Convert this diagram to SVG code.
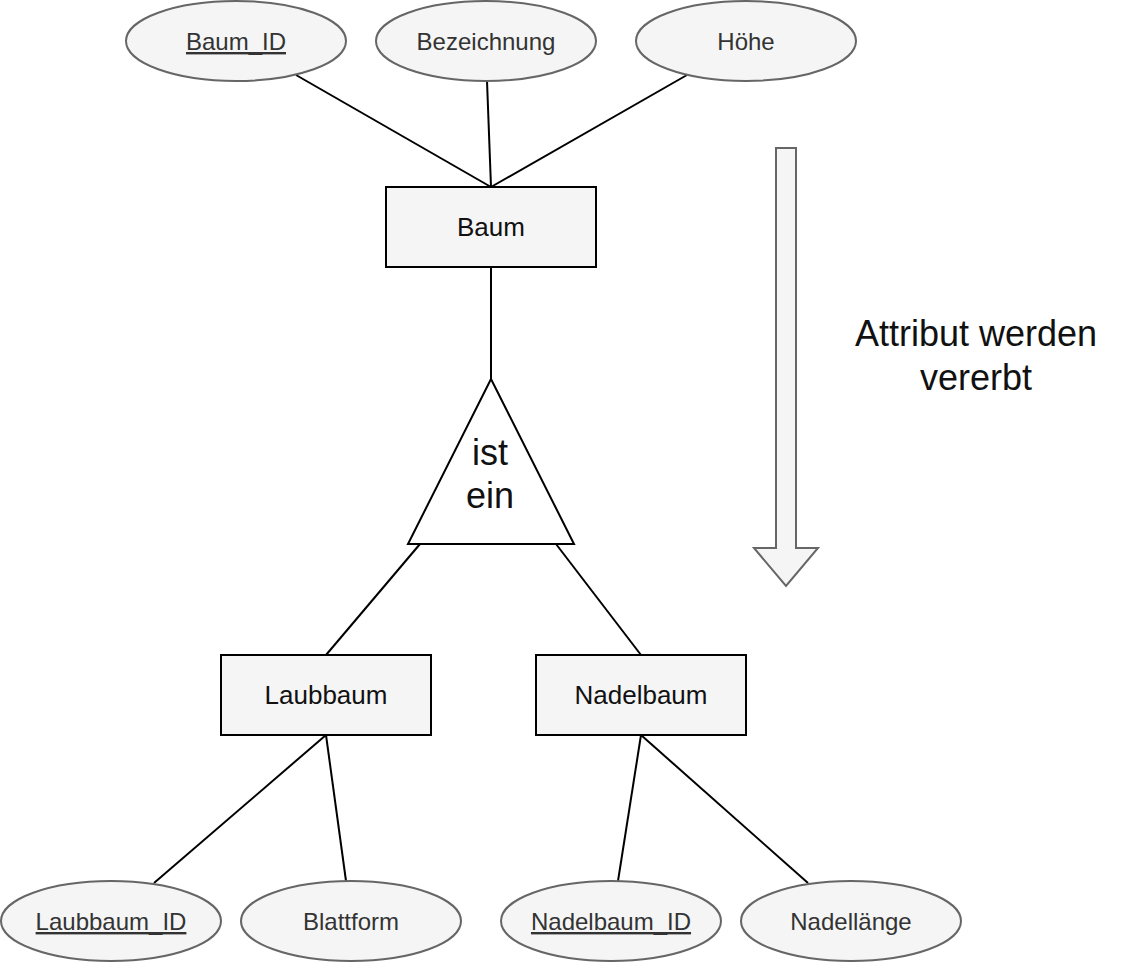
<svg xmlns="http://www.w3.org/2000/svg" width="1128" height="962" viewBox="0 0 1128 962">
<style>
.attr{fill:#f5f5f5;stroke:#666666;stroke-width:2}
.ent{fill:#f5f5f5;stroke:#000000;stroke-width:2}
.atxt{font-family:"Liberation Sans",Arial,sans-serif;font-size:24px;fill:#333333;text-anchor:middle}
.etxt{font-family:"Liberation Sans",Arial,sans-serif;font-size:26px;fill:#111111;text-anchor:middle}
.big{font-family:"Liberation Sans",Arial,sans-serif;font-size:36px;fill:#111111;text-anchor:middle}
.key{text-decoration:underline}
.conn line{stroke:#000000;stroke-width:2}
</style>
<rect width="1128" height="962" fill="#ffffff"/>
<g class="conn" id="connectors">
<line x1="296" y1="75" x2="491" y2="187"/>
<line x1="487" y1="81" x2="491" y2="187"/>
<line x1="687" y1="75" x2="491" y2="187"/>
<line x1="491" y1="267" x2="491" y2="379"/>
<line x1="420" y1="544" x2="326" y2="655"/>
<line x1="556" y1="544" x2="641" y2="655"/>
<line x1="326" y1="735" x2="154" y2="883"/>
<line x1="326" y1="735" x2="346" y2="881"/>
<line x1="641" y1="735" x2="618" y2="881"/>
<line x1="641" y1="735" x2="808" y2="883"/>
</g>
<g id="attr-baum-id"><ellipse class="attr" cx="236" cy="41" rx="110" ry="40"/><text class="atxt key" x="236" y="50">Baum_ID</text></g>
<g id="attr-bezeichnung"><ellipse class="attr" cx="486" cy="41" rx="110" ry="40"/><text class="atxt" x="486" y="50">Bezeichnung</text></g>
<g id="attr-hoehe"><ellipse class="attr" cx="746" cy="41" rx="110" ry="40"/><text class="atxt" x="746" y="50">Höhe</text></g>
<g id="ent-baum"><rect class="ent" x="386" y="187" width="210" height="80"/><text class="etxt" x="491" y="236">Baum</text></g>
<g id="isa"><polygon points="491,379 574,544 408,544" fill="#ffffff" stroke="#000000" stroke-width="2"/><text class="big" x="490" y="465">ist</text><text class="big" x="490" y="508">ein</text></g>
<g id="ent-laubbaum"><rect class="ent" x="221" y="655" width="210" height="80"/><text class="etxt" x="326" y="704">Laubbaum</text></g>
<g id="ent-nadelbaum"><rect class="ent" x="536" y="655" width="210" height="80"/><text class="etxt" x="641" y="704">Nadelbaum</text></g>
<g id="attr-laubbaum-id"><ellipse class="attr" cx="111" cy="921" rx="110" ry="40"/><text class="atxt key" x="111" y="930">Laubbaum_ID</text></g>
<g id="attr-blattform"><ellipse class="attr" cx="351" cy="921" rx="110" ry="40"/><text class="atxt" x="351" y="930">Blattform</text></g>
<g id="attr-nadelbaum-id"><ellipse class="attr" cx="611" cy="921" rx="110" ry="40"/><text class="atxt key" x="611" y="930">Nadelbaum_ID</text></g>
<g id="attr-nadellaenge"><ellipse class="attr" cx="851" cy="921" rx="110" ry="40"/><text class="atxt" x="851" y="930">Nadellänge</text></g>
<g id="inherit-arrow"><polygon points="776,148 796,148 796,548 818,548 786,586 754,548 776,548" fill="#f5f5f5" stroke="#666666" stroke-width="2"/></g>
<g id="note"><text class="big" x="976" y="346">Attribut werden</text><text class="big" x="976" y="390">vererbt</text></g>
</svg>
